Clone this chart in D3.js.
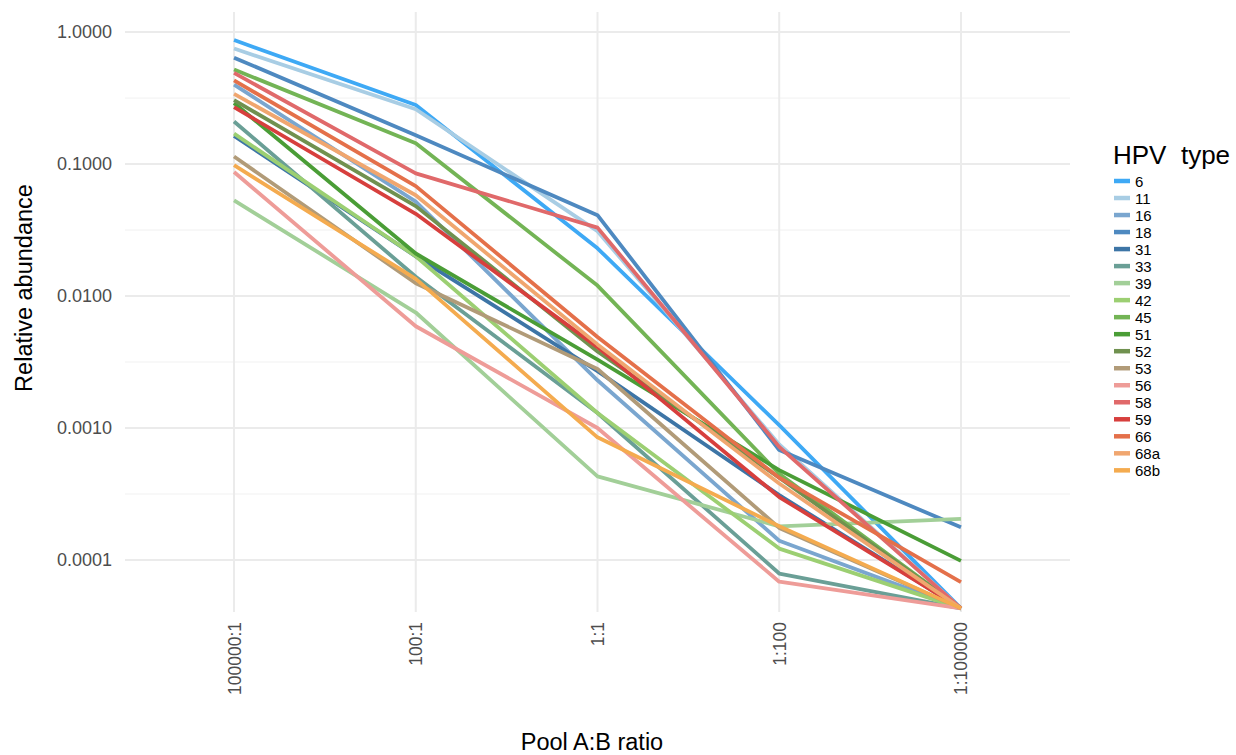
<!DOCTYPE html>
<html>
<head>
<meta charset="utf-8">
<script src="https://cdn.jsdelivr.net/npm/d3@7"></script>
<style>
  body { margin: 0; background: #fff; }
  svg { display: block; font-family: "Liberation Sans", Arial, Helvetica, sans-serif; }
</style>
</head>
<body>
<svg id="chart" width="1236" height="755"></svg>
<script>
// ---- data ----
const ratios = ["100000:1", "100:1", "1:1", "1:100", "1:100000"];
const types = ["6","11","16","18","31","33","39","42","45","51","52","53","56","58","59","66","68a","68b"];
const colors = ["#3ea9f5","#a8cde4","#7aa6cf","#4e89c0","#3d75a6","#6a9f96","#a2cf98","#9ccf72","#73b455","#4a9d36","#70914f","#b19b78","#ee9c98","#e0696a","#d73f3d","#e4704a","#f0a66f","#f4ab4f"];
const v6   = [0.87, 0.28, 0.023, 0.00105, 0.000043];
const v11  = [0.75, 0.26, 0.031, 0.00075, 0.000043];
const v16  = [0.40, 0.052, 0.0023, 0.00014, 0.000043];
const v18  = [0.64, 0.165, 0.041, 0.00068, 0.000177];
const v31  = [0.163, 0.020, 0.0027, 0.00031, 0.000043];
const v33  = [0.21, 0.014, 0.0013, 0.000079, 0.000043];
const v39  = [0.053, 0.0075, 0.00043, 0.00018, 0.000205];
const v42  = [0.17, 0.020, 0.0013, 0.000122, 0.000043];
const v45  = [0.52, 0.144, 0.012, 0.00045, 0.000043];
const v51  = [0.29, 0.021, 0.0033, 0.00048, 0.0000985];
const v52  = [0.305, 0.048, 0.0038, 0.00042, 0.000043];
const v53  = [0.114, 0.0125, 0.0028, 0.000175, 0.000043];
const v56  = [0.087, 0.0059, 0.0010, 0.0000685, 0.000043];
const v58  = [0.49, 0.085, 0.033, 0.00072, 0.000043];
const v59  = [0.27, 0.042, 0.0041, 0.00030, 0.000043];
const v66  = [0.43, 0.068, 0.0049, 0.00042, 0.000068];
const v68a = [0.34, 0.058, 0.0043, 0.00038, 0.000043];
const v68b = [0.098, 0.0135, 0.00085, 0.00018, 0.000043];
const seriesValues = [v6,v11,v16,v18,v31,v33,v39,v42,v45,v51,v52,v53,v56,v58,v59,v66,v68a,v68b];
const yTicks = [1, 0.1, 0.01, 0.001, 0.0001];
const yMinor = [Math.pow(10,-0.5), Math.pow(10,-1.5), Math.pow(10,-2.5), Math.pow(10,-3.5)];

// ---- layout ----
const svg = d3.select("#chart");
const panel = {left: 125, right: 1070, top: 12, bottom: 612};

const x = d3.scalePoint().domain(ratios).range([panel.left, panel.right]).padding(0.6);
const y = d3.scaleLog().domain([Math.pow(10,-4.394), Math.pow(10,0.152)]).range([panel.bottom, panel.top]);

// grid
const g = svg.append("g");
g.selectAll("line.minor").data(yMinor).enter().append("line")
  .attr("x1", panel.left).attr("x2", panel.right)
  .attr("y1", d => y(d)).attr("y2", d => y(d))
  .attr("stroke", "#f1f1f1").attr("stroke-width", 1);
g.selectAll("line.major").data(yTicks).enter().append("line")
  .attr("x1", panel.left).attr("x2", panel.right)
  .attr("y1", d => y(d)).attr("y2", d => y(d))
  .attr("stroke", "#ebebeb").attr("stroke-width", 2);
g.selectAll("line.vx").data(ratios).enter().append("line")
  .attr("x1", d => x(d)).attr("x2", d => x(d))
  .attr("y1", panel.top).attr("y2", panel.bottom)
  .attr("stroke", "#ebebeb").attr("stroke-width", 2);

// axes (text only)
const yAxis = d3.axisLeft(y).tickValues(yTicks).tickFormat(d3.format(".4f")).tickSize(0).tickPadding(13);
const ya = svg.append("g").attr("transform", `translate(${panel.left},0)`).call(yAxis);
ya.select(".domain").remove();
ya.selectAll("text").attr("font-size", 18).attr("fill", "#4d4d4d").attr("font-family", "Liberation Sans, Arial, sans-serif");

const xAxis = d3.axisBottom(x).tickSize(0).tickPadding(0);
const xa = svg.append("g").attr("transform", `translate(0,${panel.bottom})`).call(xAxis);
xa.select(".domain").remove();
xa.selectAll("text")
  .attr("font-size", 17.5).attr("fill", "#4d4d4d").attr("font-family", "Liberation Sans, Arial, sans-serif")
  .attr("text-anchor", "end").attr("dy", null).attr("y", 0)
  .attr("transform", "translate(6,10) rotate(-90)");

// lines
const line = d3.line().x((d, i) => x(ratios[i])).y(d => y(d));
svg.append("g").selectAll("path").data(seriesValues).enter().append("path")
  .attr("d", d => line(d))
  .attr("fill", "none")
  .attr("stroke", (d, i) => colors[i])
  .attr("stroke-width", 3.8)
  .attr("stroke-linejoin", "round");

// axis titles
svg.append("text").attr("x", 592).attr("y", 750)
  .attr("text-anchor", "middle").attr("font-size", 23.5).attr("fill", "#000").text("Pool A:B ratio");
svg.append("text").attr("transform", `translate(32,${(panel.top + panel.bottom) / 2 - 24}) rotate(-90)`)
  .attr("text-anchor", "middle").attr("font-size", 23.5).attr("fill", "#000").text("Relative abundance");

// legend
const lg = svg.append("g").attr("transform", "translate(1113,0)");
lg.append("text").attr("x", 0).attr("y", 164).attr("font-size", 26).attr("fill", "#000")
  .attr("xml:space", "preserve").style("white-space", "pre").text("HPV  type");
const items = lg.selectAll("g.item").data(types).enter().append("g")
  .attr("transform", (d, i) => `translate(0,${181 + i * 17.02})`);
items.append("line").attr("x1", 1).attr("x2", 17).attr("y1", 0).attr("y2", 0)
  .attr("stroke", (d, i) => colors[i]).attr("stroke-width", 4.5);
items.append("text").attr("x", 22).attr("y", 5.5).attr("font-size", 15).attr("fill", "#000").text(d => d);
</script>
</body>
</html>
